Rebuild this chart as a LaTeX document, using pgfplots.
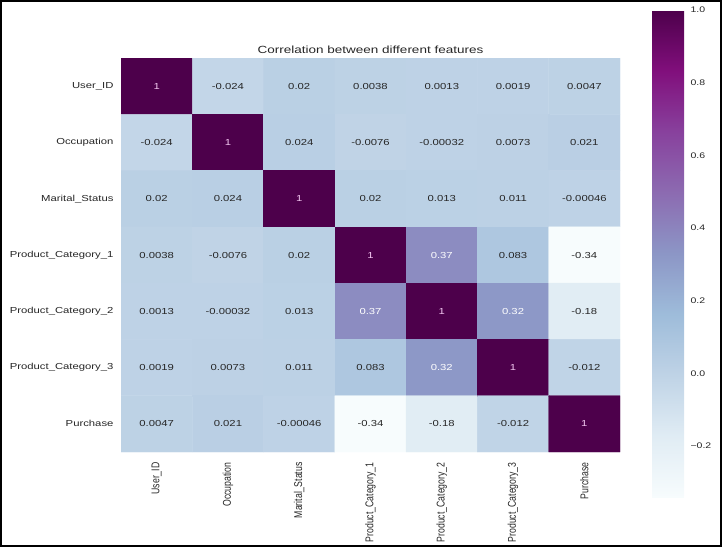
\documentclass[border=0pt]{standalone}
\usepackage{pgfplots}
\pgfplotsset{compat=1.18}
\usepackage{graphicx}
\usepackage{fontspec}
\setmainfont{Liberation Sans}
\definecolor{txt}{HTML}{262626}
\definecolor{pinkw}{HTML}{F2C6F0}
\newcommand{\sh}[1]{\scalebox{1}[0.77]{#1}}
\newcommand{\sv}[1]{\scalebox{0.77}[1]{#1}}
\pgfplotsset{
  colormap={bupu}{HTML(0)=(F7FCFD) HTML(1)=(E0ECF4) HTML(2)=(BFD3E6) HTML(3)=(9EBCDA)
    HTML(4)=(8C96C6) HTML(5)=(8C6BB1) HTML(6)=(88419D) HTML(7)=(810F7C) HTML(8)=(4D004B)}
}
\begin{document}
\begin{tikzpicture}[x=1pt,y=1pt]
\useasboundingbox (0,0) rectangle (722,547);
\draw[line width=2pt] (1,1) rectangle (721,546);
\begin{axis}[
  at={(121pt,95pt)}, anchor=south west,
  scale only axis, width=499pt, height=394pt,
  colormap name=bupu,
  point meta min=-0.34, point meta max=1,
  xmin=-0.5, xmax=6.5, ymin=-0.5, ymax=6.5,
  y dir=reverse,
  axis line style={draw=none},
  major tick length=0pt,
  xtick={0,...,6}, ytick={0,...,6},
  xticklabels={\sv{User\_ID},\sv{Occupation},\sv{Marital\_Status},\sv{Product\_Category\_1},\sv{Product\_Category\_2},\sv{Product\_Category\_3},\sv{Purchase}},
  yticklabels={\sh{User\_ID},\sh{Occupation},\sh{Marital\_Status},\sh{Product\_Category\_1},\sh{Product\_Category\_2},\sh{Product\_Category\_3},\sh{Purchase}},
  x tick label style={rotate=90, anchor=east, font=\fontsize{11.3}{13}\selectfont, text=txt, xshift=-7pt},
  y tick label style={font=\fontsize{11.3}{13}\selectfont, text=txt, xshift=-4pt},
  title={\sh{Correlation between different features}},
  title style={font=\fontsize{13.5}{15}\selectfont, text=txt, yshift=-5pt},
  colorbar,
  colorbar/width=32pt,
  colorbar shift/.style={},
  colorbar style={
    at={(parent axis.north east)}, anchor=north west,
    xshift=32pt, yshift=48pt,
    scale only axis, width=32pt, height=487pt,
    axis line style={draw=none},
    major tick length=0pt,
    ytick={-0.2,0,0.2,0.4,0.6,0.8,1.0},
    yticklabels={\sh{−0.2},\sh{0.0},\sh{0.2},\sh{0.4},\sh{0.6},\sh{0.8},\sh{1.0}},
    y tick label style={font=\fontsize{10.5}{12}\selectfont, text=txt, xshift=3pt},
  },
]
\addplot[matrix plot*, mesh/cols=7, point meta=explicit] table[meta=c] {
x y c
0 0 1
1 0 -0.024
2 0 0.02
3 0 0.0038
4 0 0.0013
5 0 0.0019
6 0 0.0047
0 1 -0.024
1 1 1
2 1 0.024
3 1 -0.0076
4 1 -0.00032
5 1 0.0073
6 1 0.021
0 2 0.02
1 2 0.024
2 2 1
3 2 0.02
4 2 0.013
5 2 0.011
6 2 -0.00046
0 3 0.0038
1 3 -0.0076
2 3 0.02
3 3 1
4 3 0.37
5 3 0.083
6 3 -0.34
0 4 0.0013
1 4 -0.00032
2 4 0.013
3 4 0.37
4 4 1
5 4 0.32
6 4 -0.18
0 5 0.0019
1 5 0.0073
2 5 0.011
3 5 0.083
4 5 0.32
5 5 1
6 5 -0.012
0 6 0.0047
1 6 0.021
2 6 -0.00046
3 6 -0.34
4 6 -0.18
5 6 -0.012
6 6 1
};
% dark annotations
\addplot[only marks, mark=none, point meta=explicit symbolic,
  nodes near coords={\sh{\pgfplotspointmeta}}, nodes near coords align=center,
  every node near coord/.append style={font=\fontsize{11.3}{13}\selectfont, text=txt}] table[meta=lbl] {
x y lbl
1 0 -0.024
2 0 0.02
3 0 0.0038
4 0 0.0013
5 0 0.0019
6 0 0.0047
0 1 -0.024
2 1 0.024
3 1 -0.0076
4 1 -0.00032
5 1 0.0073
6 1 0.021
0 2 0.02
1 2 0.024
3 2 0.02
4 2 0.013
5 2 0.011
6 2 -0.00046
0 3 0.0038
1 3 -0.0076
2 3 0.02
5 3 0.083
6 3 -0.34
0 4 0.0013
1 4 -0.00032
2 4 0.013
6 4 -0.18
0 5 0.0019
1 5 0.0073
2 5 0.011
3 5 0.083
6 5 -0.012
0 6 0.0047
1 6 0.021
2 6 -0.00046
3 6 -0.34
4 6 -0.18
5 6 -0.012
};
% light annotations
\addplot[only marks, mark=none, point meta=explicit symbolic,
  nodes near coords={\sh{\pgfplotspointmeta}}, nodes near coords align=center,
  every node near coord/.append style={font=\fontsize{11.3}{13}\selectfont, text=white}] table[meta=lbl] {
x y lbl
4 3 0.37
3 4 0.37
5 4 0.32
4 5 0.32
};
\addplot[only marks, mark=none, point meta=explicit symbolic,
  nodes near coords={\sh{\pgfplotspointmeta}}, nodes near coords align=center,
  every node near coord/.append style={font=\fontsize{11.3}{13}\selectfont, text=pinkw}] table[meta=lbl] {
x y lbl
0 0 1
1 1 1
2 2 1
3 3 1
4 4 1
5 5 1
6 6 1
};
\end{axis}
\end{tikzpicture}
\end{document}
